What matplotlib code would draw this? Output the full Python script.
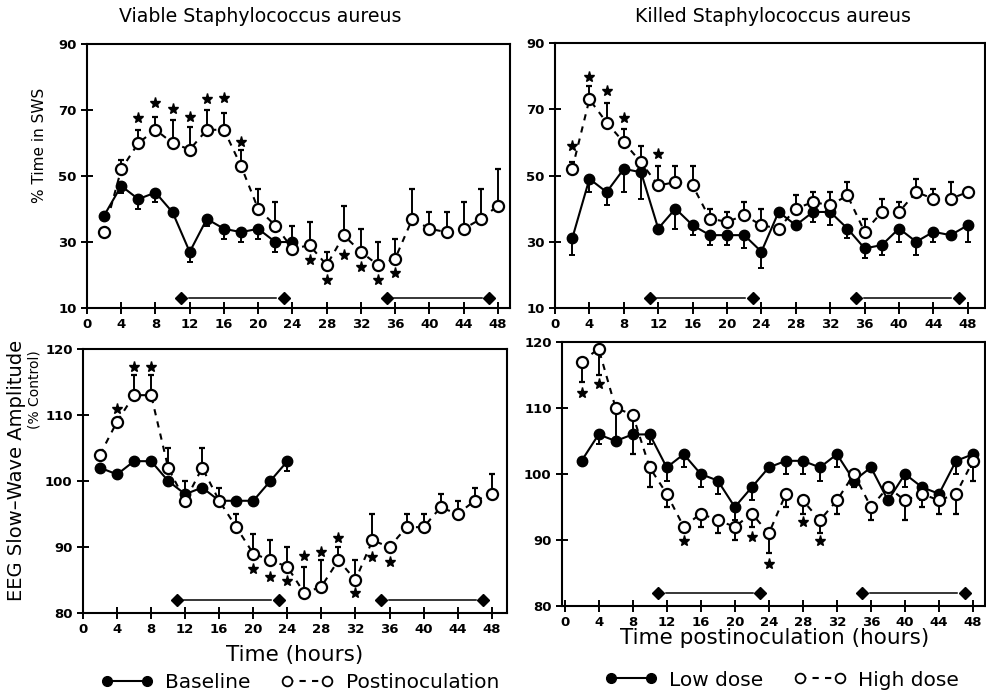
import matplotlib
matplotlib.use("Agg")
import matplotlib.pyplot as plt
from matplotlib.lines import Line2D
import numpy as np

plt.rcParams['font.family'] = ['DejaVu Sans']

##====================== data =============
hours = np.arange(2, 50, 2)          # 2 .. 48, every 2 h
hours_base = np.arange(2, 26, 2)     # baseline only recorded for 24 h
xticks = np.arange(0, 52, 4)
dark_on = [11, 35]
dark_off = [23, 47]

# Viable S. aureus - % time in SWS
sws_viable_base = [38, 47, 43, 45, 39, 27, 37, 34, 33, 34, 30, 30]
sws_viable_base_err = [1, 2, 3, 3, 1, 3, 2, 3, 3, 3, 3, 1]
sws_viable_post = [33, 52, 60, 64, 60, 58, 64, 64, 53, 40, 35, 28,
                   29, 23, 32, 27, 23, 25, 37, 34, 33, 34, 37, 41]
sws_viable_post_err = [0, 3, 4, 4, 7, 7, 6, 5, 5, 6, 7, 7,
                       7, 4, 9, 7, 7, 6, 9, 5, 6, 8, 9, 11]
sws_viable_star_x = [6, 8, 10, 12, 14, 16, 18, 26, 28, 30, 32, 34, 36]
sws_viable_star_y = [67.5, 72, 70.3, 67.8, 73.3, 73.6, 60.2, 24.5, 18.6, 26, 22.3, 18.6, 20.7]

# Killed S. aureus - % time in SWS
sws_killed_low = [31, 49, 45, 52, 51, 34, 40, 35, 32, 32, 32, 27,
                  39, 35, 39, 39, 34, 28, 29, 34, 30, 33, 32, 35]
sws_killed_low_err = [5, 4, 4, 7, 8, 0, 6, 3, 3, 3, 4, 5,
                      0, 0, 3, 4, 3, 3, 3, 4, 4, 3, 0, 5]
sws_killed_high = [52, 73, 66, 60, 54, 47, 48, 47, 37, 36, 38, 35,
                   34, 40, 42, 41, 44, 33, 39, 39, 45, 43, 43, 45]
sws_killed_high_err = [2, 4, 6, 4, 5, 6, 5, 6, 3, 3, 4, 5,
                       0, 4, 3, 4, 4, 4, 4, 3, 4, 3, 5, 0]
sws_killed_star_x = [2, 4, 6, 8, 12]
sws_killed_star_y = [59, 79.6, 75.4, 67.5, 56.5]

# Viable S. aureus - EEG slow-wave amplitude
eeg_viable_base = [102, 101, 103, 103, 100, 98, 99, 97, 97, 97, 100, 103]
eeg_viable_base_err = [0, 0, 0, 0, 0, 1, 0, 0, 0, 0, 0, 1.5]
eeg_viable_post = [104, 109, 113, 113, 102, 97, 102, 97, 93, 89, 88, 87,
                   83, 84, 88, 85, 91, 90, 93, 93, 96, 95, 97, 98]
eeg_viable_post_err = [0, 0, 3, 3, 3, 3, 3, 2, 2, 3, 3, 3,
                       4, 4, 2, 3, 4, 0, 2, 2, 2, 2, 2, 3]
eeg_viable_star_x = [4, 6, 8, 20, 22, 24, 26, 28, 30, 32, 34, 36]
eeg_viable_star_y = [110.9, 117.3, 117.3, 86.6, 85.5, 84.8, 88.6, 89.2, 91.3, 83, 88.5, 87.7]

# Killed S. aureus - EEG slow-wave amplitude
eeg_killed_low = [102, 106, 105, 106, 106, 101, 103, 100, 99, 95, 98, 101,
                  102, 102, 101, 103, 99, 101, 96, 100, 98, 97, 102, 103]
eeg_killed_low_err = [0, 1.5, 0, 0, 1.5, 2, 2, 2, 2, 2, 2, 0,
                      2, 2, 2, 2, 1, 0, 0, 2, 2, 1, 2, 2]
eeg_killed_high = [117, 119, 110, 109, 101, 97, 92, 94, 93, 92, 94, 91,
                   97, 96, 93, 96, 100, 95, 98, 96, 97, 96, 97, 102]
eeg_killed_high_err = [3, 4, 4.5, 6, 3, 2, 0, 2, 2, 2, 2, 3,
                       2, 2, 2, 2, 2, 2, 0, 3, 2, 2, 3, 3]
eeg_killed_star_x = [2, 4, 14, 22, 24, 28, 30]
eeg_killed_star_y = [112.3, 113.6, 89.9, 90.5, 86.4, 92.7, 89.9]


##====================== helpers =============
def zero_err(err):
    return np.zeros(len(err))


def draw_panel(ax, x1, y1, e1, x2, y2, e2, up2, star_x, star_y, ylim, yticks, xlim, dark_y):
    # filled series, error bars downwards
    ax.errorbar(x1, y1, yerr=[e1, zero_err(e1)], fmt='o', color='black', ms=7.5,
                mfc='black', mec='black', elinewidth=1.4, capsize=2.5, capthick=1.4,
                ls='-', lw=1.5, zorder=3)
    # open series
    if up2:
        yerr2 = [zero_err(e2), e2]
    else:
        yerr2 = [e2, zero_err(e2)]
    ax.errorbar(x2, y2, yerr=yerr2, fmt='o', color='black', ms=8, mfc='white',
                mec='black', mew=1.6, elinewidth=1.4, capsize=2.5, capthick=1.4,
                ls=(0, (3, 3)), lw=1.5, zorder=4)
    ax.plot(star_x, star_y, ls='none', marker='*', ms=8, color='black', zorder=5)

    # dark periods
    for on, off in zip(dark_on, dark_off):
        ax.plot([on, off], [dark_y, dark_y], ls='none', marker='D', ms=6,
                color='black', zorder=5)
        ax.plot([on + 0.9, off - 0.9], [dark_y, dark_y], color='black', lw=1.1)

    ax.set_xlim(*xlim)
    ax.set_ylim(*ylim)
    ax.set_xticks(xticks)
    ax.set_yticks(yticks)
    ax.tick_params(direction='inout', length=8, width=1.4, labelsize=9.5)
    for lab in ax.get_xticklabels() + ax.get_yticklabels():
        lab.set_fontweight('bold')
    for sp in ax.spines.values():
        sp.set_linewidth(1.5)


fig = plt.figure(figsize=(9.86, 6.95), dpi=100)

ax_tl = fig.add_axes([0.0882, 0.5568, 0.429, 0.3799])
ax_tr = fig.add_axes([0.5629, 0.5568, 0.4361, 0.3813])
ax_bl = fig.add_axes([0.0842, 0.118, 0.430, 0.3799])
ax_br = fig.add_axes([0.570, 0.128, 0.429, 0.3799])

draw_panel(ax_tl, hours_base, sws_viable_base, sws_viable_base_err,
           hours, sws_viable_post, sws_viable_post_err, True,
           sws_viable_star_x, sws_viable_star_y, (10, 90), [10, 30, 50, 70, 90], (0, 49.4), 13)
draw_panel(ax_tr, hours, sws_killed_low, sws_killed_low_err,
           hours, sws_killed_high, sws_killed_high_err, True,
           sws_killed_star_x, sws_killed_star_y, (10, 90), [10, 30, 50, 70, 90], (0, 50), 13)
draw_panel(ax_bl, hours_base, eeg_viable_base, eeg_viable_base_err,
           hours, eeg_viable_post, eeg_viable_post_err, True,
           eeg_viable_star_x, eeg_viable_star_y, (80, 120), [80, 90, 100, 110, 120], (0, 49.8), 82)
draw_panel(ax_br, hours, eeg_killed_low, eeg_killed_low_err,
           hours, eeg_killed_high, eeg_killed_high_err, False,
           eeg_killed_star_x, eeg_killed_star_y, (80, 120), [80, 90, 100, 110, 120], (-0.3, 49.4), 82)

# titles and axis labels
fig.text(260 / 986, 1 - 17 / 695, "Viable Staphylococcus aureus", ha='center', va='center', fontsize=13.6)
fig.text(773 / 986, 1 - 16 / 695, "Killed Staphylococcus aureus", ha='center', va='center', fontsize=13.6)
fig.text(40 / 986, 1 - 145 / 695, "% Time in SWS", rotation=90, ha='center', va='center', fontsize=11)
fig.text(17 / 986, 1 - 470 / 695, "EEG Slow\u2013Wave Amplitude", rotation=90, ha='center', va='center', fontsize=14)
fig.text(35 / 986, 1 - 390 / 695, "(% Control)", rotation=90, ha='center', va='center', fontsize=10)
fig.text(295 / 986, 1 - 655 / 695, "Time (hours)", ha='center', va='center', fontsize=15.5)
fig.text(775 / 986, 1 - 638 / 695, "Time postinoculation (hours)", ha='center', va='center', fontsize=15.5)

# legends
h_filled = Line2D([], [], color='black', ls='-', lw=1.5, marker='o', ms=7, mfc='black')
h_open = Line2D([], [], color='black', ls=(0, (3, 3)), lw=1.5, marker='o', ms=7, mfc='white', mew=1.3)
fig.legend([h_filled, h_open], ["Baseline", "Postinoculation"], loc='center',
           bbox_to_anchor=(300 / 986, 1 - 683 / 695), ncol=2, frameon=False,
           numpoints=2, handlelength=2.6, columnspacing=1.5, handletextpad=0.6, fontsize=14.5)
fig.legend([h_filled, h_open], ["Low dose", "High dose"], loc='center',
           bbox_to_anchor=(782 / 986, 1 - 680 / 695), ncol=2, frameon=False,
           numpoints=2, handlelength=2.6, columnspacing=1.5, handletextpad=0.6, fontsize=14.5)

fig.savefig("out.png", dpi=100)
